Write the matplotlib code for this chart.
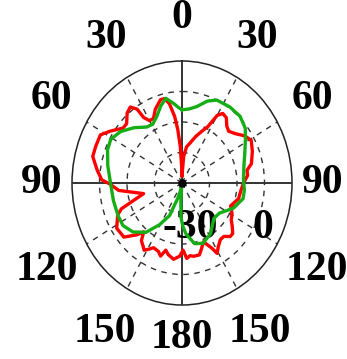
import numpy as np
import matplotlib
matplotlib.use("Agg")
import matplotlib.pyplot as plt

# ---- data (angle in degrees, clockwise from top; normalized radius) ----
red_angles = [0, 4, 8, 12, 18, 23, 27, 30, 33, 37, 41, 45, 50, 56, 61, 68, 76, 80, 84,
              90, 96, 104, 113, 119, 124, 128, 132, 135, 139, 143, 148, 151, 153, 158,
              162, 165, 170, 173, 176, 179, 182, 187, 192, 195, 198, 201, 206, 209, 212,
              214, 218, 221, 224, 230, 238, 246, 249, 256, 264, 269, 272, 278, 285, 291,
              298, 303, 310, 314, 319, 323, 326, 327, 330, 334, 338, 344, 347, 350, 353,
              355, 357, 359, 360]
red_r = [0.06, 0.22, 0.30, 0.33, 0.40, 0.46, 0.52, 0.64, 0.68, 0.67, 0.62, 0.60, 0.63,
         0.69, 0.72, 0.69, 0.65, 0.60, 0.60, 0.56, 0.54, 0.53, 0.48, 0.52, 0.54, 0.58,
         0.62, 0.62, 0.58, 0.58, 0.62, 0.66, 0.60, 0.52, 0.57, 0.61, 0.61, 0.60, 0.62,
         0.55, 0.60, 0.63, 0.60, 0.57, 0.63, 0.60, 0.59, 0.62, 0.65, 0.63, 0.60, 0.53,
         0.59, 0.69, 0.70, 0.64, 0.59, 0.36, 0.58, 0.65, 0.73, 0.78, 0.84, 0.84, 0.84,
         0.78, 0.70, 0.70, 0.76, 0.78, 0.73, 0.64, 0.59, 0.59, 0.65, 0.71, 0.71, 0.66,
         0.55, 0.44, 0.30, 0.12, 0.06]

green_angles = [0, 6, 12, 19, 25, 35, 44, 52, 58, 67, 76, 87, 96, 103, 114, 126, 135,
                148, 159, 167, 175, 179, 182, 184, 186, 190, 197, 203, 211, 219, 228,
                237, 245, 257, 270, 282, 292, 299, 307, 316, 325, 331, 337, 343, 348,
                353, 357, 360]
green_r = [0.60, 0.61, 0.64, 0.71, 0.75, 0.76, 0.76, 0.73, 0.68, 0.62, 0.58, 0.56, 0.57,
           0.57, 0.51, 0.42, 0.41, 0.49, 0.53, 0.51, 0.42, 0.35, 0.28, 0.15, 0.03, 0.05,
           0.13, 0.29, 0.40, 0.52, 0.60, 0.64, 0.64, 0.64, 0.65, 0.69, 0.73, 0.74, 0.70,
           0.63, 0.56, 0.55, 0.59, 0.66, 0.71, 0.66, 0.62, 0.60]

angle_label_angles = [0, 30, 60, 90, 120, 150, 180, 210, 240, 270, 300, 330]
angle_label_texts = ["0", "30", "60", "90", "120", "150", "180",
                     "150", "120", "90", "60", "30"]
angle_label_radius = [1.35, 1.37, 1.37, 1.28, 1.42, 1.41, 1.27,
                      1.41, 1.42, 1.28, 1.37, 1.37]

radial_grid = [0.25, 0.5, 0.75]
radial_label_texts = ["-30", "0"]
radial_label_angles = [169, 117]
radial_label_radius = [0.376, 0.82]

# ---- figure ----
fig = plt.figure(figsize=(3.47, 3.59), dpi=100)
ax = fig.add_axes([0.2075, 0.1504, 0.634, 0.6797], projection="polar")
ax.set_aspect("auto")
ax.set_theta_zero_location("N")
ax.set_theta_direction(-1)
ax.set_ylim(0, 1)

serif = ["Liberation Serif", "DejaVu Serif"]
gridc = "#333333"

# dashed circles and spokes
ax.set_rgrids(radial_grid, labels=[""] * len(radial_grid))
ax.set_thetagrids([a for a in angle_label_angles if a % 90 != 0],
                  labels=[""] * 8)
ax.grid(True, color=gridc, linestyle=(0, (4, 4)), linewidth=1.0)
ax.spines["polar"].set_color("#222222")
ax.spines["polar"].set_linewidth(1.1)
ax.tick_params(axis="both", length=0)

# solid cross hair
for a in [0, 90]:
    t = np.deg2rad(a)
    ax.plot([t, t], [1, 0], color=gridc, lw=1.4, zorder=3)
    ax.plot([t + np.pi, t + np.pi], [1, 0], color=gridc, lw=1.4, zorder=3)
ax.plot([0], [0], "o", color="black", ms=5, zorder=6)

# curves
ax.plot(np.deg2rad(red_angles), red_r, color="#FF0000", lw=2.4, zorder=4)
ax.plot(np.deg2rad(green_angles), green_r, color="#16AE16", lw=2.4, zorder=5)

# angle labels
for a, s, r in zip(angle_label_angles, angle_label_texts, angle_label_radius):
    ax.text(np.deg2rad(a), r, s, family=serif, fontweight="bold", fontsize=30,
            ha="center", va="center", clip_on=False, color="black")

# radial labels
for a, s, r in zip(radial_label_angles, radial_label_texts, radial_label_radius):
    ax.text(np.deg2rad(a), r, s, family=serif, fontweight="bold", fontsize=30,
            ha="center", va="center", clip_on=False, color="black", zorder=4.5)

fig.savefig("out.png", dpi=100)
